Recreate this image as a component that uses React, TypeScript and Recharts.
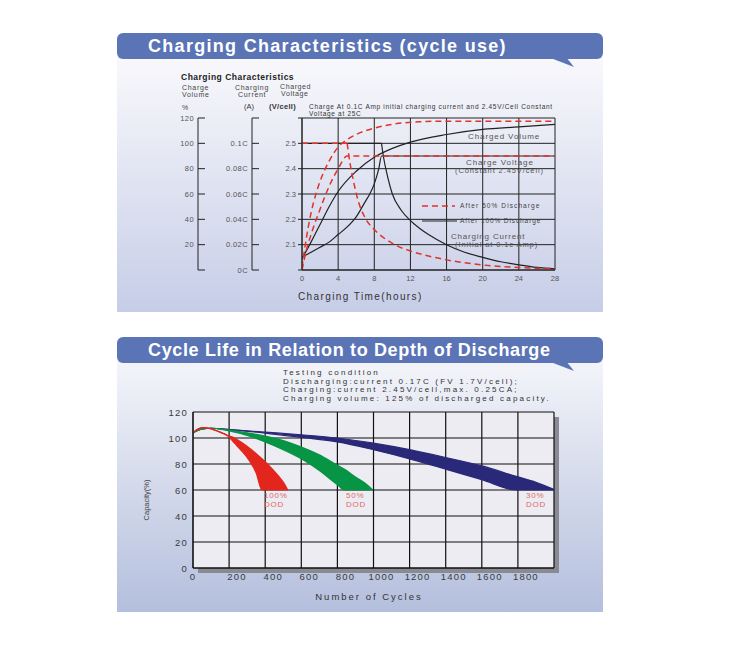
import React from 'react'
import { ComposedChart, Line, Area, XAxis, YAxis, CartesianGrid } from 'recharts'

// ---- charging characteristics (top) ----
const hourTicks = [0, 4, 8, 12, 16, 20, 24, 28]
const volumeTicks = [0, 20, 40, 60, 80, 100, 120]
const currentTicks = [0, 0.02, 0.04, 0.06, 0.08, 0.1, 0.12]
const currentLabels = ['0C', '0.02C', '0.04C', '0.06C', '0.08C', '0.1C', '']
const voltageTicks = [2.0, 2.1, 2.2, 2.3, 2.4, 2.5, 2.6]

// after 100% discharge (solid black)
const volFullHours = [0, 1, 2, 3, 4, 6, 8, 10, 12, 16, 20, 24, 28]
const volFull = [9, 22, 36, 50, 62, 78, 89, 96, 101, 107, 111, 113, 115]
const voltFullHours = [0, 1, 2, 3, 4, 5, 6, 7, 7.5, 8, 8.5, 8.8, 12, 20, 28]
const voltFull = [2.05, 2.07, 2.09, 2.11, 2.14, 2.17, 2.21, 2.27, 2.3, 2.34, 2.4, 2.45, 2.45, 2.45, 2.45]
const curFullFlatHours = [0, 8.8]
const curFullFlat = [0.1, 0.1]
const curFullDecayHours = [8.8, 9, 9.5, 10, 11, 12, 13, 14, 16, 18, 20, 22, 24, 26, 28]
const curFullDecay = [0.1, 0.09, 0.073, 0.06, 0.047, 0.039, 0.033, 0.028, 0.02, 0.014, 0.01, 0.0065, 0.004, 0.002, 0.001]

// after 50% discharge (dashed red)
const volHalfHours = [0, 0.5, 1, 1.5, 2, 3, 4, 5, 6, 8, 10, 13, 16, 20, 28]
const volHalf = [2, 26, 45, 59, 70, 86, 97, 103, 107, 112, 115, 117, 117.5, 117.5, 117.5]
const voltHalfHours = [0, 0.5, 1, 2, 3, 4, 5, 12, 20, 28]
const voltHalf = [2.0, 2.08, 2.14, 2.24, 2.33, 2.4, 2.45, 2.45, 2.45, 2.45]
const curHalfFlatHours = [0, 5]
const curHalfFlat = [0.1, 0.1]
const curHalfDecayHours = [5, 5.3, 5.7, 6.2, 7, 8, 10, 12, 14, 16, 20, 24, 28]
const curHalfDecay = [0.1, 0.085, 0.07, 0.055, 0.041, 0.032, 0.021, 0.015, 0.011, 0.008, 0.004, 0.002, 0.001]

// ---- cycle life (bottom) ----
const cycleTicks = [0, 200, 400, 600, 800, 1000, 1200, 1400, 1600, 1800, 2000]
const capacityTicks = [0, 20, 40, 60, 80, 100, 120]

const redCycles = [0, 30, 60, 100, 150, 190, 230, 270, 310, 350, 382, 420, 460, 500, 525]
const redUpper = [104, 107, 108, 107, 104.5, 102, 100, 96.5, 92.5, 88, 84, 79, 73, 66, 60]
const redLower = [104, 107, 108, 107, 104.5, 102, 96, 90, 83, 73, 60, 60, 60, 60, 60]

const greenCycles = [0, 50, 100, 200, 300, 400, 500, 600, 700, 800, 840, 900, 950, 995]
const greenUpper = [104, 107, 107.5, 106, 104, 101.5, 98, 93, 87, 79, 76, 70, 65.5, 60]
const greenLower = [104, 107, 107.5, 105.5, 102, 97, 91, 84, 75, 64, 60, 60, 60, 60]

const blueCycles = [0, 50, 100, 200, 400, 600, 800, 1000, 1200, 1400, 1600, 1790, 1900, 2000]
const blueUpper = [104, 107, 107.5, 106.5, 104.5, 102.5, 100, 96, 91, 85, 78.5, 70.5, 66, 60.5]
const blueLower = [104, 107, 107.5, 106.5, 103.8, 100.5, 97, 91, 84, 76, 68, 60, 60, 60]

const FONT = '"Liberation Sans", Arial, sans-serif'
const RED = '#e2332a'

// axis ids sort alphabetically: the first one sits next to the plot
const VOLT = 'a_volt'
const CUR = 'b_cur'
const VOL = 'c_vol'

const pts = (xs: number[], ys: number[]) => xs.map((h, i) => ({ h, v: ys[i] }))
const band = (xs: number[], lo: number[], hi: number[]) => xs.map((c, i) => ({ c, r: [lo[i], hi[i]] }))

function T({ x, y, size, children, bold, color = '#555', ls = 0 }: any) {
  return (
    <div
      style={{
        position: 'absolute',
        left: x,
        top: y - size / 2,
        fontSize: size,
        lineHeight: `${size}px`,
        fontWeight: bold ? 700 : 400,
        color,
        letterSpacing: ls,
        whiteSpace: 'nowrap',
        fontFamily: FONT,
      }}
    >
      {children}
    </div>
  )
}

function Banner({ top, text, ls }: { top: number; text: string; ls: number }) {
  return (
    <>
      <svg style={{ position: 'absolute', left: 0, top: 0 }} width={735} height={657}>
        <path d={`M 548 ${top + 24} L 566 ${top + 24} L 574 ${top + 34} Z`} fill="#5a74b6" />
      </svg>
      <div
        style={{
          position: 'absolute',
          left: 117,
          top,
          width: 486,
          height: 26,
          background: '#5a74b6',
          borderRadius: 6,
          color: '#fff',
          fontFamily: FONT,
          fontWeight: 700,
          fontSize: 18,
          lineHeight: '26px',
          letterSpacing: ls,
          paddingLeft: 31,
          boxSizing: 'border-box',
          whiteSpace: 'nowrap',
        }}
      >
        {text}
      </div>
    </>
  )
}

function RightTick({ x, y, payload, labels, ticks }: any) {
  const i = ticks.indexOf(payload.value)
  const label = labels[i]
  return (
    <g>
      <line x1={x} x2={x + 7} y1={y} y2={y} stroke="#222" strokeWidth={1} />
      <text x={x - 4} y={y} dy={2.7} textAnchor="end" fontSize={7.5} fill="#555" letterSpacing={0.4} fontFamily={FONT}>
        {label}
      </text>
    </g>
  )
}

function CycleTick({ x, y, payload }: any) {
  const v = payload.value
  if (v === 2000) return null
  return (
    <text x={v === 0 ? x : x + 8} y={y} dy={8} textAnchor="middle" fontSize={9.5} fill="#3a3a3a" letterSpacing={1.2} fontFamily={FONT}>
      {v}
    </text>
  )
}

function CapTick({ x, y, payload }: any) {
  return (
    <text x={x} y={y} dy={3.5} textAnchor="end" fontSize={9.5} fill="#3a3a3a" letterSpacing={1.2} fontFamily={FONT}>
      {payload.value}
    </text>
  )
}

const solid = { stroke: '#222', strokeWidth: 1.2, dot: false, isAnimationActive: false, type: 'monotone' as const }
const dashed = { stroke: RED, strokeWidth: 1.5, strokeDasharray: '6 4', dot: false, isAnimationActive: false, type: 'monotone' as const }

export default function App() {
  const volumeLabels = volumeTicks.map((v) => (v === 0 ? '' : String(v)))
  return (
    <div style={{ position: 'absolute', left: 0, top: 0, width: 735, height: 657, background: '#fff', overflow: 'hidden', fontFamily: FONT }}>
      {/* panels */}
      <div style={{ position: 'absolute', left: 117, top: 55, width: 486, height: 257, background: 'linear-gradient(to bottom, #f9f9fc, #c6cde7)' }} />
      <div style={{ position: 'absolute', left: 117, top: 359, width: 486, height: 253, background: 'linear-gradient(to bottom, #f4f5fa, #b4bfdd)' }} />
      <Banner top={33} text="Charging Characteristics (cycle use)" ls={1.3} />
      <Banner top={337} text="Cycle Life in Relation to Depth of Discharge" ls={0.65} />

      {/* top chart */}
      <div style={{ position: 'absolute', left: 120, top: 108 }}>
        <ComposedChart width={443} height={182} margin={{ top: 10, right: 8, bottom: 0, left: 0 }}>
          <CartesianGrid yAxisId={VOLT} stroke="#222" strokeWidth={1} />
          <XAxis
            dataKey="h"
            type="number"
            domain={[0, 28]}
            ticks={hourTicks}
            interval={0}
            allowDataOverflow
            tickLine={false}
            tickSize={0}
            tickMargin={6}
            axisLine={{ stroke: '#222' }}
            tick={{ fontSize: 7.5, fill: '#555', fontFamily: FONT }}
            height={20}
          />
          <YAxis
            yAxisId={VOLT}
            type="number"
            domain={[2.0, 2.6]}
            ticks={voltageTicks}
            interval={0}
            width={50}
            axisLine={{ stroke: '#222' }}
            tickLine={{ stroke: '#222' }}
            tickSize={4}
            tickMargin={2}
            tick={{ fontSize: 7.5, fill: '#555', fontFamily: FONT }}
            tickFormatter={(v: number) => (v > 2.05 && v < 2.55 ? v.toFixed(1) : '')}
          />
          <YAxis
            yAxisId={CUR}
            type="number"
            domain={[0, 0.12]}
            ticks={currentTicks}
            interval={0}
            width={54}
            axisLine={{ stroke: '#222' }}
            tickLine={false}
            tickSize={0}
            tickMargin={0}
            tick={<RightTick labels={currentLabels} ticks={currentTicks} />}
          />
          <YAxis
            yAxisId={VOL}
            type="number"
            domain={[0, 120]}
            ticks={volumeTicks}
            interval={0}
            width={78}
            axisLine={{ stroke: '#222' }}
            tickLine={false}
            tickSize={0}
            tickMargin={0}
            tick={<RightTick labels={volumeLabels} ticks={volumeTicks} />}
          />
          <Line yAxisId={VOL} data={pts(volFullHours, volFull)} dataKey="v" {...solid} />
          <Line yAxisId={VOLT} data={pts(voltFullHours, voltFull)} dataKey="v" {...solid} />
          <Line yAxisId={CUR} data={pts(curFullFlatHours, curFullFlat)} dataKey="v" {...solid} type="linear" />
          <Line yAxisId={CUR} data={pts(curFullDecayHours, curFullDecay)} dataKey="v" {...solid} />
          <Line yAxisId={VOL} data={pts(volHalfHours, volHalf)} dataKey="v" {...dashed} />
          <Line yAxisId={VOLT} data={pts(voltHalfHours, voltHalf)} dataKey="v" {...dashed} />
          <Line yAxisId={CUR} data={pts(curHalfFlatHours, curHalfFlat)} dataKey="v" {...dashed} type="linear" />
          <Line yAxisId={CUR} data={pts(curHalfDecayHours, curHalfDecay)} dataKey="v" {...dashed} />
        </ComposedChart>
      </div>

      {/* top chart texts */}
      <T x={181} y={77} size={8.5} bold color="#222" ls={0.5}>Charging Characteristics</T>
      <T x={182} y={87} size={7} color="#444" ls={0.7}>Charge</T>
      <T x={182} y={94} size={7} color="#444" ls={0.7}>Volume</T>
      <T x={235} y={87} size={7} color="#444" ls={0.7}>Charging</T>
      <T x={238} y={94} size={7} color="#444" ls={0.7}>Current</T>
      <T x={280} y={86} size={7} color="#444" ls={0.6}>Charged</T>
      <T x={281} y={93} size={7} color="#444" ls={0.6}>Voltage</T>
      <T x={182} y={107} size={7} color="#444">%</T>
      <T x={244} y={107} size={7.5} color="#333">(A)</T>
      <T x={269} y={107} size={7.5} bold color="#333" ls={0.3}>(V/cell)</T>
      <T x={309} y={107} size={6.5} color="#333" ls={0.7}>Charge At 0.1C Amp initial charging current and 2.45V/Cell Constant</T>
      <T x={309} y={114} size={6.5} color="#333" ls={0.7}>Voltage  at 25C</T>
      <T x={468} y={137} size={8} color="#555" ls={0.9}>Charged Volume</T>
      <T x={466} y={163} size={8} color="#555" ls={0.9}>Charge Voltage</T>
      <T x={455} y={171} size={7.5} color="#555" ls={0.9}>(Constant 2.45V/cell)</T>
      <T x={451} y={237} size={8} color="#555" ls={0.8}>Charging Current</T>
      <T x={455} y={245} size={7.5} color="#555" ls={0.9}>(Initial at 0.1c Amp)</T>
      <svg style={{ position: 'absolute', left: 0, top: 0 }} width={735} height={400}>
        <line x1={422} x2={455} y1={206} y2={206} stroke={RED} strokeWidth={1.5} strokeDasharray="6 4" />
        <line x1={422} x2={457} y1={221} y2={221} stroke="#222" strokeWidth={1.2} />
      </svg>
      <T x={460} y={206} size={6.5} color="#444" ls={1.1}>After 50% Discharge</T>
      <T x={460} y={221} size={6.5} color="#444" ls={0.9}>After 100% Discharge</T>
      <T x={298} y={297} size={10} color="#333" ls={1.4}>Charging Time(hours)</T>

      {/* bottom chart */}
      <div style={{ position: 'absolute', left: 198, top: 417, width: 361, height: 156, background: '#8a8a92' }} />
      <div style={{ position: 'absolute', left: 150, top: 402 }}>
        <ComposedChart width={414} height={186} margin={{ top: 10, right: 10, bottom: 0, left: 0 }}>
          <CartesianGrid stroke="#111" strokeWidth={1.2} fill="#ececf2" fillOpacity={1} />
          <XAxis
            dataKey="c"
            type="number"
            domain={[0, 2000]}
            ticks={cycleTicks}
            interval={0}
            allowDataOverflow
            tickLine={false}
            tickSize={0}
            tickMargin={4}
            axisLine={{ stroke: '#111' }}
            tick={<CycleTick />}
            height={20}
          />
          <YAxis
            type="number"
            domain={[0, 120]}
            ticks={capacityTicks}
            interval={0}
            width={43}
            axisLine={{ stroke: '#111' }}
            tickLine={false}
            tickSize={0}
            tickMargin={5}
            tick={<CapTick />}
          />
          <Area data={band(blueCycles, blueLower, blueUpper)} dataKey="r" type="monotone" fill="#2a2878" fillOpacity={1} stroke="#2a2878" strokeWidth={1.2} isAnimationActive={false} />
          <Area data={band(greenCycles, greenLower, greenUpper)} dataKey="r" type="monotone" fill="#079445" fillOpacity={1} stroke="#079445" strokeWidth={1.2} isAnimationActive={false} />
          <Area data={band(redCycles, redLower, redUpper)} dataKey="r" type="monotone" fill="#e3261d" fillOpacity={1} stroke="#e3261d" strokeWidth={1.2} isAnimationActive={false} />
        </ComposedChart>
      </div>

      {/* bottom texts */}
      <T x={283} y={373} size={8} color="#333" ls={2.2}>Testing condition</T>
      <T x={283} y={381.5} size={8} color="#333" ls={2.2}>Discharging:current 0.17C (FV 1.7V/cell);</T>
      <T x={283} y={390} size={8} color="#333" ls={2.2}>Charging:current 2.45V/cell,max. 0.25CA;</T>
      <T x={283} y={398.5} size={8} color="#333" ls={2.2}>Charging volume: 125% of discharged capacity.</T>
      <T x={264} y={496} size={8} color="#e06a64" ls={0.8}>100%</T>
      <T x={264} y={505} size={8} color="#e06a64" ls={0.8}>DOD</T>
      <T x={346} y={496} size={8} color="#e06a64" ls={0.8}>50%</T>
      <T x={346} y={505} size={8} color="#e06a64" ls={0.8}>DOD</T>
      <T x={526} y={496} size={8} color="#e06a64" ls={0.8}>30%</T>
      <T x={526} y={505} size={8} color="#e06a64" ls={0.8}>DOD</T>
      <div
        style={{
          position: 'absolute',
          left: 146,
          top: 500,
          transform: 'translate(-50%, -50%) rotate(-90deg)',
          fontSize: 7.5,
          color: '#444',
          whiteSpace: 'nowrap',
          fontFamily: FONT,
        }}
      >
        Capacity(%)
      </div>
      <div style={{ position: 'absolute', left: 369, top: 596, transform: 'translate(-50%, -50%)', fontSize: 9.5, color: '#333', letterSpacing: 2, whiteSpace: 'nowrap', fontFamily: FONT }}>
        Number of Cycles
      </div>
    </div>
  )
}
